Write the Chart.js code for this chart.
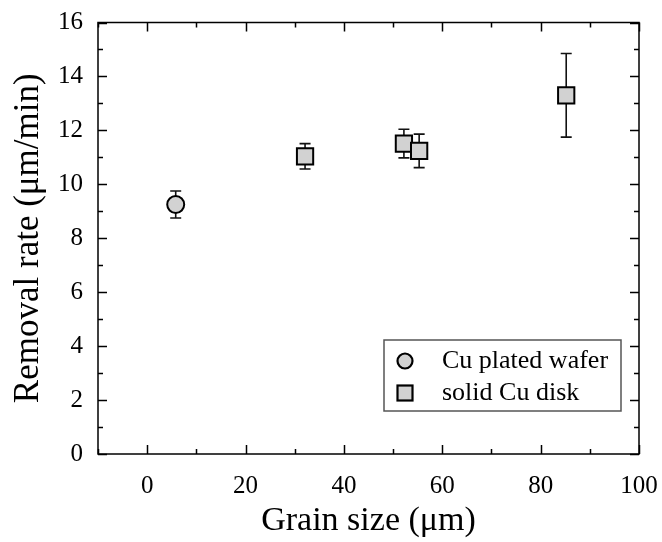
<!DOCTYPE html>
<html>
<head>
<meta charset="utf-8">
<script src="https://cdn.jsdelivr.net/npm/chart.js@4.4.1/dist/chart.umd.min.js"></script>
<style>
  html, body { margin: 0; padding: 0; background: #fff; }
  #wrap { width: 662px; height: 542px; }
</style>
</head>
<body>
<div id="wrap"><canvas id="grainChart" width="662" height="542"></canvas></div>
<script>
// Data
const seriesNames = ['Cu plated wafer', 'solid Cu disk'];

const waferGrain = [5.8];
const waferRate = [9.25];
const waferErr = [0.5];

const diskGrain = [32.1, 52.2, 55.3, 85.2];
const diskRate = [11.04, 11.51, 11.24, 13.3];
const diskErr = [0.47, 0.53, 0.62, 1.55];

const xTicks = [0, 20, 40, 60, 80, 100];
const yTicks = [0, 2, 4, 6, 8, 10, 12, 14, 16];

const serif = "'Liberation Serif', 'DejaVu Serif', serif";
const markerFill = '#d2d2d2';

function toPoints(xs, ys, errs) {
    return xs.map((x, i) => ({ x: x, y: ys[i], err: errs[i] }));
}

// Error bars, drawn through the chart scales before the markers
const errorBars = {
    id: 'errorBars',
    beforeDatasetsDraw(chart) {
        const ctx = chart.ctx;
        const xs = chart.scales.x, ys = chart.scales.y;
        ctx.save();
        ctx.strokeStyle = '#111';
        ctx.lineWidth = 1.6;
        chart.data.datasets.forEach(ds => {
            ds.data.forEach(p => {
                const px = xs.getPixelForValue(p.x);
                const top = ys.getPixelForValue(p.y + p.err);
                const bot = ys.getPixelForValue(p.y - p.err);
                ctx.beginPath();
                ctx.moveTo(px, top); ctx.lineTo(px, bot);
                ctx.moveTo(px - 5.5, top); ctx.lineTo(px + 5.5, top);
                ctx.moveTo(px - 5.5, bot); ctx.lineTo(px + 5.5, bot);
                ctx.stroke();
            });
        });
        ctx.restore();
    }
};

// Frame with inward ticks on all four sides, plus the legend box
const frame = {
    id: 'frame',
    afterDraw(chart) {
        const ctx = chart.ctx;
        const a = chart.chartArea;
        const xs = chart.scales.x, ys = chart.scales.y;
        ctx.save();
        ctx.strokeStyle = '#000';
        ctx.lineWidth = 1.5;
        ctx.strokeRect(a.left, a.top, a.right - a.left, a.bottom - a.top);
        ctx.beginPath();
        for (let v = -10; v <= 100; v += 10) {
            const px = Math.round(xs.getPixelForValue(v)) + 0.5;
            const len = v % 20 === 0 ? 9 : 5;
            ctx.moveTo(px, a.bottom); ctx.lineTo(px, a.bottom - len);
            ctx.moveTo(px, a.top); ctx.lineTo(px, a.top + len);
        }
        for (let v = 0; v <= 16; v += 1) {
            const py = Math.round(ys.getPixelForValue(v)) + 0.5;
            const len = v % 2 === 0 ? 9 : 5;
            ctx.moveTo(a.left, py); ctx.lineTo(a.left + len, py);
            ctx.moveTo(a.right, py); ctx.lineTo(a.right - len, py);
        }
        ctx.stroke();

        // legend box in the lower right of the plot
        const bx = a.right - 255, by = a.bottom - 114, bw = 237, bh = 71;
        ctx.strokeStyle = '#555';
        ctx.lineWidth = 1.5;
        ctx.strokeRect(bx, by, bw, bh);
        ctx.fillStyle = markerFill;
        ctx.strokeStyle = '#000';
        ctx.lineWidth = 2.2;
        ctx.beginPath();
        ctx.arc(bx + 21, by + 21, 7.5, 0, Math.PI * 2);
        ctx.fill(); ctx.stroke();
        ctx.fillRect(bx + 13.5, by + 45.5, 15, 15);
        ctx.strokeRect(bx + 13.5, by + 45.5, 15, 15);
        ctx.fillStyle = '#000';
        ctx.font = '26px ' + serif;
        ctx.textBaseline = 'middle';
        ctx.fillText(seriesNames[0], bx + 58, by + 21);
        ctx.fillText(seriesNames[1], bx + 58, by + 53);
        ctx.restore();
    }
};

// no extra room for overhanging tick labels, the layout padding decides it
function noLabelPadding(s) {
    s.paddingLeft = 0;
    s.paddingRight = 0;
    s.paddingTop = 0;
    s.paddingBottom = 0;
}

const ctx = document.getElementById('grainChart').getContext('2d');
const grainChart = new Chart(ctx, {
    type: 'scatter',
    data: {
        datasets: [
            {
                label: seriesNames[0],
                data: toPoints(waferGrain, waferRate, waferErr),
                pointStyle: 'circle',
                pointRadius: 8.5,
                backgroundColor: markerFill,
                borderColor: '#000',
                borderWidth: 2
            },
            {
                label: seriesNames[1],
                data: toPoints(diskGrain, diskRate, diskErr),
                pointStyle: 'rect',
                pointRadius: 11.5,
                backgroundColor: markerFill,
                borderColor: '#000',
                borderWidth: 2
            }
        ]
    },
    options: {
        responsive: false,
        animation: false,
        layout: { padding: { left: 0, right: 23, top: 22.5, bottom: 0 } },
        plugins: {
            legend: { display: false },
            tooltip: { enabled: false }
        },
        scales: {
            x: {
                type: 'linear',
                min: -10,
                max: 100,
                afterBuildTicks: s => { s.ticks = xTicks.map(v => ({ value: v })); },
                afterFit: s => { s.height = 88; noLabelPadding(s); },
                grid: { display: false, drawTicks: false },
                border: { display: false },
                ticks: {
                    color: '#000',
                    font: { family: serif, size: 25 },
                    padding: 17
                },
                title: {
                    display: true,
                    text: 'Grain size (\u03bcm)',
                    color: '#000',
                    font: { family: serif, size: 34 },
                    padding: { top: 4, bottom: 1 }
                }
            },
            y: {
                type: 'linear',
                min: 0,
                max: 16,
                afterBuildTicks: s => { s.ticks = yTicks.map(v => ({ value: v })); },
                afterFit: s => { s.width = 98; noLabelPadding(s); },
                grid: { display: false, drawTicks: false },
                border: { display: false },
                ticks: {
                    color: '#000',
                    font: { family: serif, size: 25 },
                    padding: 15
                },
                title: {
                    display: true,
                    text: 'Removal rate (\u03bcm/min)',
                    color: '#000',
                    font: { family: serif, size: 35 },
                    padding: { top: 8, bottom: 4 }
                }
            }
        }
    },
    plugins: [errorBars, frame]
});
</script>
</body>
</html>
